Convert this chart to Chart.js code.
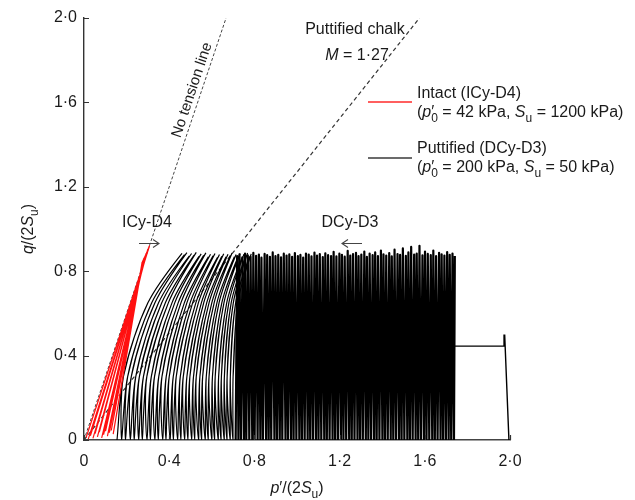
<!DOCTYPE html>
<html>
<head>
<meta charset="utf-8">
<script src="https://cdn.jsdelivr.net/npm/chart.js@4"></script>
<style>html,body{margin:0;padding:0;background:#fff}</style>
</head>
<body>
<canvas id="c" width="635" height="500"></canvas>
<script>
// axis ticks
const xTicks = [0, 0.4, 0.8, 1.2, 1.6, 2.0];
const yTicks = [0, 0.4, 0.8, 1.2, 1.6, 2.0];

// reference lines
const noTensionP = [0, 0.667];
const noTensionQ = [0, 2.0];
const mLineP = [0, 1.575];
const mLineQ = [0, 2.0];

// ICy-D4 (intact) cycles: bottom and peak of each stroke
const icyBottomP = [0.010, 0.020, 0.030, 0.042, 0.052, 0.063, 0.072, 0.083, 0.092, 0.101, 0.110, 0.119, 0.128, 0.137];
const icyBottomQ = [0.012, 0.004, 0.020, 0.008, 0.030, 0.015, 0.038, 0.010, 0.026, 0.042, 0.018, 0.035, 0.045, 0.028];
const icyTopP = [0.308, 0.306, 0.303, 0.300, 0.298, 0.295, 0.292, 0.290, 0.287, 0.284, 0.281, 0.279, 0.276, 0.273];
const icyTopQ = [0.922, 0.916, 0.910, 0.904, 0.898, 0.892, 0.886, 0.880, 0.874, 0.868, 0.862, 0.856, 0.850, 0.844];

// DCy-D3 (puttified) first loading
const dcyStartP = [1.995, 1.975, 1.972, 1.710];
const dcyStartQ = [0.000, 0.500, 0.445, 0.445];

// DCy-D3 dense cycles (p' at q = 0 and at the peak)
const denseBottomP = [0.712,0.725,0.737,0.751,0.762,0.776,0.790,0.801,0.815,0.828,0.840,0.855,0.867,0.879,0.894,0.906,0.919,0.931,0.946,0.958,0.972,0.984,0.997,1.011,1.023,1.036,1.050,1.062,1.075,1.089,1.101,1.114,1.128,1.140,1.153,1.167,1.179,1.192,1.206,1.218,1.231,1.245,1.257,1.270,1.284,1.296,1.309,1.323,1.335,1.348,1.362,1.374,1.387,1.401,1.413,1.426,1.440,1.452,1.465,1.479,1.491,1.504,1.518,1.530,1.543,1.557,1.569,1.582,1.596,1.608,1.621,1.635,1.647,1.660,1.674,1.686,1.699,1.712,1.724,1.737];
const denseTopP = [0.719,0.730,0.744,0.756,0.769,0.782,0.795,0.808,0.821,0.833,0.848,0.860,0.873,0.886,0.899,0.912,0.925,0.938,0.951,0.964,0.977,0.990,1.004,1.016,1.029,1.042,1.055,1.068,1.082,1.094,1.107,1.121,1.133,1.146,1.160,1.172,1.185,1.199,1.211,1.224,1.238,1.250,1.263,1.277,1.289,1.302,1.316,1.328,1.341,1.355,1.367,1.380,1.394,1.406,1.419,1.433,1.445,1.458,1.472,1.484,1.497,1.511,1.523,1.536,1.550,1.562,1.575,1.589,1.601,1.614,1.628,1.640,1.653,1.667,1.679,1.692,1.705,1.717,1.730,1.741];
const denseTopQ = [0.872,0.880,0.866,0.884,0.875,0.869,0.887,0.873,0.879,0.864,0.882,0.876,0.868,0.889,0.871,0.878,0.866,0.883,0.874,0.880,0.868,0.886,0.872,0.877,0.865,0.884,0.879,0.870,0.888,0.874,0.881,0.867,0.885,0.876,0.872,0.892,0.870,0.883,0.878,0.869,0.896,0.874,0.881,0.887,0.871,0.879,0.893,0.868,0.884,0.876,0.889,0.872,0.898,0.880,0.874,0.886,0.870,0.902,0.881,0.877,0.908,0.873,0.889,0.915,0.879,0.884,0.920,0.875,0.893,0.882,0.876,0.898,0.871,0.887,0.880,0.874,0.891,0.878,0.884,0.872];

// DCy-D3 late loops (p' at q = 0, 0.3, 0.65 and at the peak)
const loopBottomP = [0.155,0.177,0.195,0.218,0.236,0.257,0.274,0.296,0.312,0.333,0.349,0.370,0.385,0.405,0.420,0.440,0.455,0.473,0.488,0.506,0.520,0.538,0.552,0.569,0.583,0.600,0.613,0.630,0.643,0.658,0.671,0.686,0.699];
const loopLowP = [0.185,0.205,0.222,0.243,0.260,0.279,0.295,0.316,0.331,0.351,0.366,0.386,0.400,0.419,0.433,0.452,0.466,0.483,0.497,0.514,0.527,0.544,0.557,0.574,0.587,0.603,0.616,0.632,0.645,0.659,0.672,0.687,0.700];
const loopHighP = [0.300,0.318,0.333,0.350,0.365,0.382,0.396,0.413,0.426,0.442,0.455,0.471,0.483,0.498,0.510,0.525,0.537,0.551,0.562,0.576,0.587,0.600,0.611,0.624,0.634,0.647,0.657,0.670,0.680,0.691,0.701,0.712,0.722];
const loopTopP = [0.460,0.472,0.483,0.494,0.505,0.517,0.527,0.540,0.550,0.562,0.572,0.584,0.594,0.606,0.615,0.627,0.636,0.647,0.656,0.667,0.676,0.687,0.695,0.706,0.714,0.725,0.733,0.743,0.751,0.760,0.768,0.777,0.785];
const loopTopQ = [0.885,0.878,0.888,0.872,0.884,0.876,0.889,0.870,0.882,0.875,0.887,0.868,0.880,0.873,0.884,0.866,0.879,0.871,0.883,0.869,0.880,0.874,0.886,0.868,0.879,0.872,0.884,0.867,0.881,0.874,0.886,0.870,0.882];
const loopLowQ = 0.3, loopHighQ = 0.65;

const FONT = '"Liberation Sans", Arial, Helvetica, sans-serif';

const pts = (xs, ys) => xs.map((x, i) => ({ x, y: ys[i] }));

const icyPts = [];
icyBottomP.forEach((p, i) => { icyPts.push({ x: p, y: icyBottomQ[i] }, { x: icyTopP[i], y: icyTopQ[i] }); });

const densePts = [];
denseBottomP.forEach((p, i) => {
  densePts.push({ x: p, y: 0 });
  if (i < denseTopP.length) densePts.push({ x: denseTopP[i], y: denseTopQ[i] });
});

const loopPts = [];
loopBottomP.forEach((p, i) => {
  loopPts.push({ x: p, y: 0 }, { x: loopLowP[i], y: loopLowQ }, { x: loopHighP[i], y: loopHighQ },
    { x: loopTopP[i], y: loopTopQ[i] }, { x: loopHighP[i], y: loopHighQ }, { x: loopLowP[i], y: loopLowQ });
});

const fmt = v => v === 0 ? '0' : v.toFixed(1).replace('.', '\u00b7');

// mixed style text: parts = [text, style]; style: i italic, s subscript, b stacked under previous
function rich(ctx, parts, x, y, size, align) {
  const font = st => (st.includes('i') ? 'italic ' : '') + (st.includes('s') ? Math.round(size * 0.72) : size) + 'px ' + FONT;
  const pos = [];
  let cx = 0, lastW = 0;
  parts.forEach(([t, st]) => {
    ctx.font = font(st);
    const w = ctx.measureText(t).width;
    if (st.includes('b')) { const s = cx - lastW; pos.push(s); cx = Math.max(cx, s + w); }
    else { pos.push(cx); lastW = w; cx += w; }
  });
  const off = align === 'center' ? -cx / 2 : align === 'right' ? -cx : 0;
  parts.forEach(([t, st], k) => {
    ctx.font = font(st);
    ctx.fillText(t, x + off + pos[k], y + (st.includes('s') ? size * 0.3 : 0));
  });
}

function arrow(ctx, x1, x2, y) {
  const d = x2 > x1 ? -1 : 1;
  ctx.beginPath();
  ctx.moveTo(x1, y); ctx.lineTo(x2, y);
  ctx.moveTo(x2 + d * 6, y - 4); ctx.lineTo(x2, y); ctx.lineTo(x2 + d * 6, y + 4);
  ctx.stroke();
}

const decor = {
  id: 'decor',
  afterDraw(chart) {
    const { ctx, scales: { x, y } } = chart;
    ctx.save();
    // inward tick marks
    ctx.strokeStyle = '#333'; ctx.lineWidth = 1.2;
    ctx.beginPath();
    yTicks.forEach(v => { const py = Math.round(y.getPixelForValue(v)) + 0.5; ctx.moveTo(x.left, py); ctx.lineTo(x.left + 5, py); });
    xTicks.forEach(v => { const px = Math.round(x.getPixelForValue(v)) + 0.5; ctx.moveTo(px, y.bottom); ctx.lineTo(px, y.bottom - 5); });
    ctx.stroke();

    ctx.fillStyle = '#1a1a1a';
    ctx.textBaseline = 'alphabetic';
    ctx.textAlign = 'left';

    // axis titles
    rich(ctx, [['p', 'i'], ['\u2032', ''], ['/(2', ''], ['S', 'i'], ['u', 's'], [')', '']], 297, 493, 16, 'center');
    ctx.save();
    ctx.translate(33, 229); ctx.rotate(-Math.PI / 2);
    rich(ctx, [['q', 'i'], ['/(2', ''], ['S', 'i'], ['u', 's'], [')', '']], 0, 0, 16, 'center');
    ctx.restore();

    // no tension line label, along the line
    const ax = x.getPixelForValue(0), ay = y.getPixelForValue(0);
    const bx = x.getPixelForValue(noTensionP[1]), by = y.getPixelForValue(noTensionQ[1]);
    const ang = Math.atan2(by - ay, bx - ax);
    const cy = 93, lx = ax + (cy - ay) / (by - ay) * (bx - ax);
    ctx.save();
    ctx.translate(lx, cy);
    ctx.rotate(ang);
    ctx.font = '15px ' + FONT; ctx.textAlign = 'center';
    ctx.fillText('No tension line', 0, -5);
    ctx.restore();

    ctx.textAlign = 'left';
    rich(ctx, [['Puttified chalk', '']], 355, 34, 16, 'center');
    rich(ctx, [['M', 'i'], [' = 1\u00b727', '']], 357, 60, 16, 'center');

    rich(ctx, [['ICy-D4', '']], 147, 227, 16, 'center');
    rich(ctx, [['DCy-D3', '']], 350, 227, 16, 'center');
    ctx.strokeStyle = '#444'; ctx.lineWidth = 1.1;
    arrow(ctx, 139, 159, 243.5);
    arrow(ctx, 362, 342, 243.5);

    // legend
    ctx.lineWidth = 1.6;
    ctx.strokeStyle = '#ff2a2a';
    ctx.beginPath(); ctx.moveTo(368, 102); ctx.lineTo(412, 102); ctx.stroke();
    ctx.strokeStyle = '#3a3a3a';
    ctx.beginPath(); ctx.moveTo(368, 158); ctx.lineTo(412, 158); ctx.stroke();
    rich(ctx, [['Intact (ICy-D4)', '']], 417, 98, 16, 'left');
    rich(ctx, [['(', ''], ['p', 'i'], ['\u2032', ''], ['0', 'sb'], [' = 42 kPa, ', ''], ['S', 'i'], ['u', 's'], [' = 1200 kPa)', '']], 417, 117, 16, 'left');
    rich(ctx, [['Puttified (DCy-D3)', '']], 417, 153, 16, 'left');
    rich(ctx, [['(', ''], ['p', 'i'], ['\u2032', ''], ['0', 'sb'], [' = 200 kPa, ', ''], ['S', 'i'], ['u', 's'], [' = 50 kPa)', '']], 417, 172, 16, 'left');
    ctx.restore();
  }
};

const line = (data, color, width, extra) => Object.assign({
  data, showLine: true, borderColor: color, borderWidth: width, pointRadius: 0, fill: false, tension: 0
}, extra);

new Chart(document.getElementById('c'), {
  type: 'scatter',
  data: {
    datasets: [
      line(icyPts, '#ff1010', 1.2, { order: 0 }),
      line(loopPts, '#000', 1.2, { order: 1, tension: 0.3 }),
      line(densePts, '#000', 2.2, { order: 1, borderJoinStyle: 'round' }),
      line(pts(dcyStartP, dcyStartQ), '#000', 1.4, { order: 1 }),
      line(pts(mLineP, mLineQ), '#333', 1.2, { order: 2, borderDash: [4, 3] }),
      line(pts(noTensionP, noTensionQ), '#444', 1, { order: 2, borderDash: [3, 2] })
    ]
  },
  options: {
    responsive: false,
    animation: false,
    devicePixelRatio: 1,
    events: [],
    layout: { autoPadding: false, padding: { top: 18, right: 125, left: 0, bottom: 0 } },
    plugins: { legend: { display: false }, tooltip: { enabled: false } },
    scales: {
      x: {
        type: 'linear', min: 0, max: 2,
        afterBuildTicks: s => { s.ticks = xTicks.map(value => ({ value })); },
        afterFit: s => { s.height = 60; },
        grid: { drawOnChartArea: false, drawTicks: false },
        border: { color: '#444', width: 1.6 },
        ticks: { callback: fmt, font: { family: FONT, size: 16 }, color: '#1a1a1a', padding: 12, maxRotation: 0, autoSkip: false }
      },
      y: {
        type: 'linear', min: 0, max: 2,
        afterBuildTicks: s => { s.ticks = yTicks.map(value => ({ value })); },
        afterFit: s => { s.width = 84; },
        grid: { drawOnChartArea: false, drawTicks: false },
        border: { color: '#333', width: 1.4 },
        ticks: { callback: fmt, font: { family: FONT, size: 16 }, color: '#1a1a1a', padding: 7, autoSkip: false }
      }
    }
  },
  plugins: [decor]
});
</script>
</body>
</html>
